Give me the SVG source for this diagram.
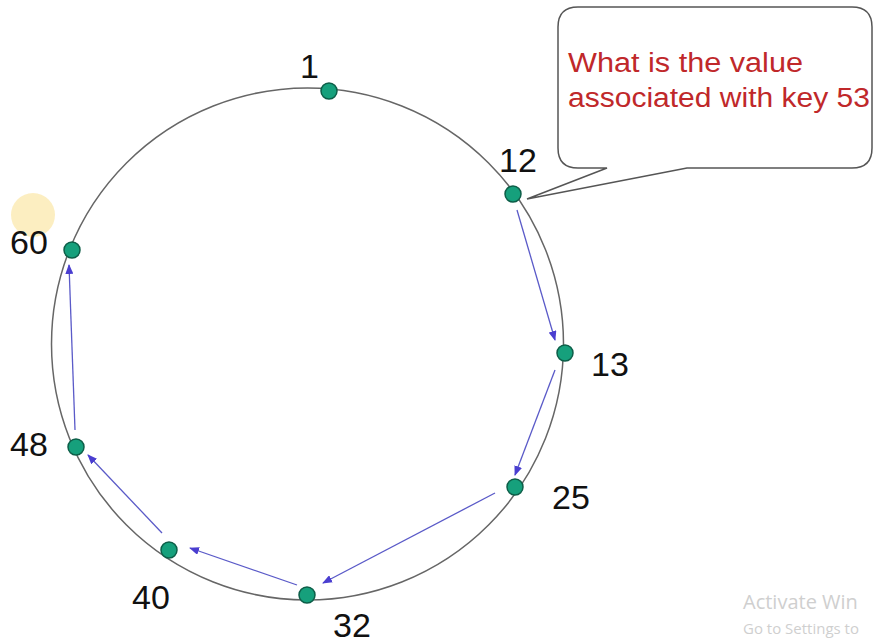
<svg xmlns="http://www.w3.org/2000/svg" width="879" height="644" viewBox="0 0 879 644">
<defs>
<style>
.lbl{font-family:"Liberation Sans","Open Sans",sans-serif;font-size:34px;fill:#111}
.node{fill:#16a07c;stroke:#0d5e48;stroke-width:1.5}
.edge{stroke:#5a5ac8;stroke-width:1.3;fill:none;marker-end:url(#ah)}
.q{font-family:"Liberation Sans","Open Sans",sans-serif;font-size:27px;fill:#c0282a}
.wm{font-family:"Open Sans","Liberation Sans",sans-serif;fill:#cfcfcf}
</style>
<marker id="ah" markerWidth="10" markerHeight="8" refX="9" refY="4" orient="auto" markerUnits="userSpaceOnUse">
<path d="M0,0 L10,4 L0,8 Z" fill="#4a3ed0"/>
</marker>
</defs>
<rect width="879" height="644" fill="#fff"/>
<circle cx="33" cy="215" r="22" fill="#fbe7a6" opacity="0.7"/>
<circle id="ring" cx="307.5" cy="344" r="256" fill="none" stroke="#666" stroke-width="1.5"/>
<g id="callout">
<path d="M578,7 H852 Q872,7 872,27 V148 Q872,168 852,168 H687 L527,199 L607,168 H578 Q558,168 558,148 V27 Q558,7 578,7 Z" fill="#fff" stroke="#555" stroke-width="1.5"/>
<text class="q" x="568" y="72" textLength="235" lengthAdjust="spacingAndGlyphs">What is the value</text>
<text class="q" x="568" y="107" textLength="302" lengthAdjust="spacingAndGlyphs">associated with key 53</text>
</g>
<g id="connectors">
<line class="edge" x1="517" y1="210" x2="555" y2="340"/>
<line class="edge" x1="555" y1="370" x2="515" y2="475"/>
<line class="edge" x1="495" y1="493" x2="323" y2="583"/>
<line class="edge" x1="297" y1="585" x2="190" y2="548"/>
<line class="edge" x1="162" y1="533" x2="88" y2="455"/>
<line class="edge" x1="75" y1="430" x2="69" y2="265"/>
</g>
<g id="n1"><circle class="node" cx="329" cy="91" r="8"/><text class="lbl" x="300" y="78">1</text></g>
<g id="n12"><circle class="node" cx="513" cy="194" r="8"/><text class="lbl" x="499" y="172">12</text></g>
<g id="n13"><circle class="node" cx="565" cy="353" r="8"/><text class="lbl" x="591" y="376">13</text></g>
<g id="n25"><circle class="node" cx="515" cy="487" r="8"/><text class="lbl" x="552" y="509">25</text></g>
<g id="n32"><circle class="node" cx="307" cy="595" r="8"/><text class="lbl" x="333" y="637">32</text></g>
<g id="n40"><circle class="node" cx="169" cy="550" r="8"/><text class="lbl" x="132" y="609">40</text></g>
<g id="n48"><circle class="node" cx="76" cy="447" r="8"/><text class="lbl" x="10" y="456">48</text></g>
<g id="n60"><circle class="node" cx="72" cy="250" r="8"/><text class="lbl" x="10" y="254">60</text></g>
<text class="wm" x="743" y="609" font-size="20">Activate Win</text>
<text class="wm" x="743" y="634" font-size="15">Go to Settings to</text>
</svg>
